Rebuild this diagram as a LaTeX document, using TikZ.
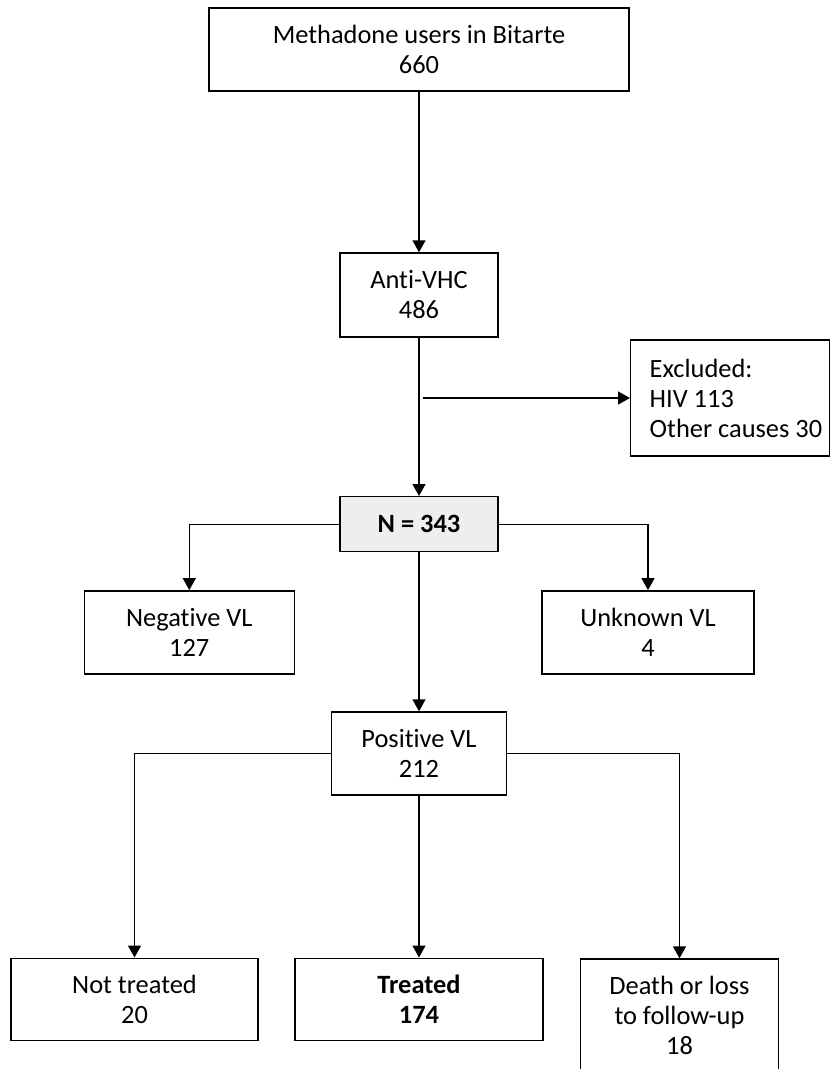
\documentclass[tikz,border=0pt]{standalone}
\usepackage{fontspec}
\setmainfont{Carlito}[Ligatures=NoCommon]
\usetikzlibrary{arrows.meta,positioning}
\tikzset{
  flowbox/.style={
    shape = rectangle,
    draw,
    fill = white,
    line width = 1.4pt,
    align = center,
    inner sep = 0pt,
    font = \fontsize{26.4}{30}\selectfont
  },
  total/.style={
    flowbox,
    fill = gray!13,
    font = \fontsize{26.4}{30}\selectfont\bfseries
  },
  flowarrow/.style={
    line width = 1.4pt,
    -{Triangle[length=12pt,width=13pt]}
  },
}

\begin{document}
\begin{tikzpicture}[x=1pt,y=-1pt]
  \useasboundingbox (0,0) rectangle (835,1069);
  \clip (0,0) rectangle (835,1069);
  % main column
  \node[flowbox, minimum width=420pt, minimum height=83pt] (users) at (419,49.5) {Methadone users in Bitarte\\660};
  \node[flowbox, minimum width=158pt, minimum height=84pt] (anti) at (419,295) {Anti-VHC\\486};
  \node[total, minimum width=158pt, minimum height=55pt] (total) at (419,524.2) {N = 343};
  \node[flowbox, minimum width=175pt, minimum height=83pt] (pos) at (419,753.5) {Positive VL\\212};
  % excluded
  \node[flowbox, minimum width=199pt, minimum height=116pt, anchor=west] (excl) at (630,398) {};
  \node[flowbox, draw=none, fill=none, align=left, anchor=west] (excltext) at ([xshift=19pt]excl.west) {Excluded:\\HIV 113\\Other causes 30};
  \coordinate (branch) at (423,398);
  % viral load
  \node[flowbox, minimum width=210pt, minimum height=83pt] (neg) at (189.3,632.3) {Negative VL\\127};
  \node[flowbox, minimum width=212pt, minimum height=83pt] (unk) at (648,632.3) {Unknown VL\\4};
  % outcome
  \node[flowbox, minimum width=247pt, minimum height=82pt] (notrt) at (134.5,999.2) {Not treated\\20};
  \node[flowbox, minimum width=248pt, minimum height=82pt, font=\fontsize{26.4}{30}\selectfont\bfseries] (trt) at (419,999.2) {Treated\\174};
  \node[flowbox, minimum width=198pt, minimum height=113pt, anchor=north] (death) at (679.5,958.3) {Death or loss\\to follow-up\\18};

  \draw[flowarrow] (users) -- (anti);
  \draw[flowarrow] (anti) -- (total);
  \draw[flowarrow] (branch) -- (excl.west);
  \draw[flowarrow] (total.west) -| (neg.north);
  \draw[flowarrow] (total.east) -| (unk.north);
  \draw[flowarrow] (total) -- (pos);
  \draw[flowarrow] (pos.west) -| (notrt.north);
  \draw[flowarrow] (pos) -- (trt);
  \draw[flowarrow] (pos.east) -| (death.north);
\end{tikzpicture}
\end{document}
